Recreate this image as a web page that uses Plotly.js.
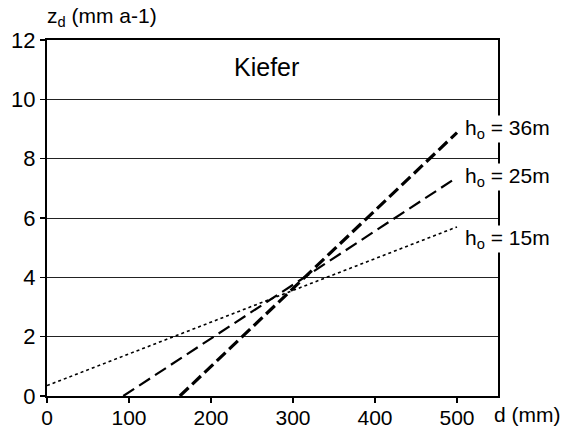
<!DOCTYPE html>
<html><head><meta charset="utf-8">
<script src="https://cdn.plot.ly/plotly-3.0.1.min.js"></script>
<style>body{margin:0;background:#fff}#c{width:565px;height:432px}</style>
</head><body><div id="c"></div>
<script>
// Data
const xTicks = [0, 100, 200, 300, 400, 500];
const yTicks = [0, 2, 4, 6, 8, 10, 12];
const x15 = [0, 500];
const y15 = [0.35, 5.7];
const x25 = [93, 500];
const y25 = [0, 7.37];
const x36 = [162, 500];
const y36 = [0, 8.88];
const seriesLabels = ["h<sub>o</sub> = 36m", "h<sub>o</sub> = 25m", "h<sub>o</sub> = 15m"];
const labelY = [y36[1], y25[1], y15[1]];
const labelShift = [4, 0, -12];

const F = "Liberation Sans, Arial, sans-serif";
const traces = [
  {x: x15, y: y15, mode: 'lines', line: {color: '#000', width: 1.6, dash: '3px,3px'}},
  {x: x25, y: y25, mode: 'lines', line: {color: '#000', width: 2.2, dash: '13px,6px'}},
  {x: x36, y: y36, mode: 'lines', line: {color: '#000', width: 3.2, dash: '12px,5px'}}
];
const ann = seriesLabels.map((t, i) => ({
  x: 500, y: labelY[i], xref: 'x', yref: 'y', text: t, showarrow: false,
  xanchor: 'left', yanchor: 'middle', xshift: 7, yshift: labelShift[i], bgcolor: '#fff', borderpad: 0,
  font: {family: F, size: 21, color: '#000'}
}));
ann.push({x: 268, y: 11.1, xref: 'x', yref: 'y', text: 'Kiefer', showarrow: false,
  xanchor: 'center', yanchor: 'middle',
  font: {family: F, size: 25, color: '#000'}});
ann.push({x: 0, y: 1, xref: 'paper', yref: 'paper', text: 'z<sub>d</sub> (mm a-1)', showarrow: false,
  xanchor: 'left', yanchor: 'middle', xshift: -2, yshift: 23, font: {family: F, size: 21, color: '#000'}});
ann.push({x: 1.066, y: 0, xref: 'paper', yref: 'paper', text: 'd (mm)', showarrow: false,
  xanchor: 'center', yanchor: 'middle', yshift: -18, font: {family: F, size: 21, color: '#000'}});

const layout = {
  width: 565, height: 432,
  margin: {l: 47, r: 67, t: 40, b: 36},
  paper_bgcolor: '#fff', plot_bgcolor: '#fff',
  showlegend: false,
  xaxis: {range: [0, 550], tickvals: xTicks, ticktext: xTicks.map(String),
    showline: true, linecolor: '#000', linewidth: 2, mirror: true,
    ticks: 'outside', ticklen: 5, tickwidth: 1.5, tickcolor: '#000',
    ticklabelstandoff: -3,
    showgrid: false, zeroline: false,
    tickfont: {family: F, size: 21, color: '#000'}},
  yaxis: {range: [0, 12], tickvals: yTicks, ticktext: yTicks.map(String),
    showline: true, linecolor: '#000', linewidth: 2, mirror: true,
    ticks: 'outside', ticklen: 5, tickwidth: 1.5, tickcolor: '#000',
    showgrid: true, gridcolor: '#222', gridwidth: 1, zeroline: false,
    tickfont: {family: F, size: 22, color: '#000'}},
  annotations: ann
};
Plotly.newPlot('c', traces, layout, {staticPlot: true});
</script></body></html>
